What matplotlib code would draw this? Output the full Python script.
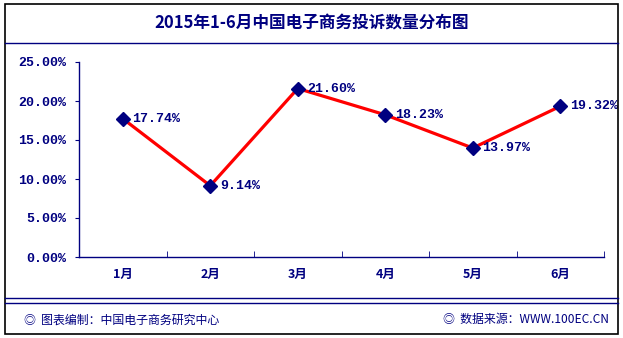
import matplotlib
matplotlib.use("Agg")
import matplotlib.pyplot as plt
from matplotlib.lines import Line2D
from matplotlib.patches import Rectangle

plt.rcParams['font.family'] = ['Noto Sans CJK SC', 'DejaVu Sans']

months = ["1月", "2月", "3月", "4月", "5月", "6月"]
shares = [17.74, 9.14, 21.60, 18.23, 13.97, 19.32]
y_ticks = [0, 5, 10, 15, 20, 25]

title = "2015年1-6月中国电子商务投诉数量分布图"
footer_left = "◎  图表编制：中国电子商务研究中心"
footer_right = "◎  数据来源：WWW.100EC.CN"

navy = "#000080"
W, H = 623, 338

fig = plt.figure(figsize=(W / 100, H / 100), dpi=100)
fig.patch.set_facecolor("white")

# outer frame and separator rules (pixel coords -> figure fraction)
def fx(px):
    return px / W

def fy(py):
    return 1 - py / H

fig.add_artist(Rectangle((fx(4.5), fy(334)), fx(618) - fx(4.5), fy(3.5) - fy(334),
                         transform=fig.transFigure, fill=False, edgecolor="black", lw=1.2))
for py in (42.5, 297.5, 302.5):
    fig.add_artist(Line2D([fx(5), fx(618)], [fy(py), fy(py)], transform=fig.transFigure,
                          color=navy, lw=1.0))

fig.text(0.5, fy(23), title, ha="center", va="center", fontsize=12, fontweight="bold",
         color=navy)
fig.text(fx(24), fy(320), footer_left, ha="left", va="center", fontsize=8.6, color=navy)
fig.text(fx(609), fy(320), footer_right, ha="right", va="center", fontsize=8.6, color=navy)

ax = fig.add_axes([fx(79), fy(257), fx(604) - fx(79), fy(62) - fy(257)])
x = list(range(len(months)))
ax.plot(x, shares, color="red", lw=2.3, marker="D", markersize=7.5,
        markerfacecolor=navy, markeredgecolor=navy, zorder=3, clip_on=False)
for xi, v in zip(x, shares):
    ax.annotate(f"{v:.2f}%", (xi, v), xytext=(7, 0), textcoords="offset points",
                ha="left", va="center", fontsize=9.5, fontweight="bold", color=navy,
                family="Liberation Mono", zorder=4)

ax.set_xlim(-0.5, len(months) - 0.5)
ax.set_ylim(0, 25)
ax.set_yticks(y_ticks)
ax.set_yticklabels([f"{t:.2f}%" for t in y_ticks], family="Liberation Mono",
                   fontweight="bold", fontsize=9.5, color=navy)
ax.set_xticks(x)
ax.set_xticklabels(months, fontweight="bold", fontsize=9, color=navy)
ax.tick_params(axis="x", length=0, pad=8)
# category boundaries, including the right end of the axis
ax.set_xticks([i + 0.5 for i in x], minor=True)
ax.tick_params(axis="x", which="minor", length=4, direction="in", color=navy)
ax.tick_params(axis="y", length=3, color=navy, pad=6)

for side in ("top", "right"):
    ax.spines[side].set_visible(False)
for side in ("left", "bottom"):
    ax.spines[side].set_color(navy)
    ax.spines[side].set_linewidth(1.0)

fig.savefig("out.png", dpi=100)
